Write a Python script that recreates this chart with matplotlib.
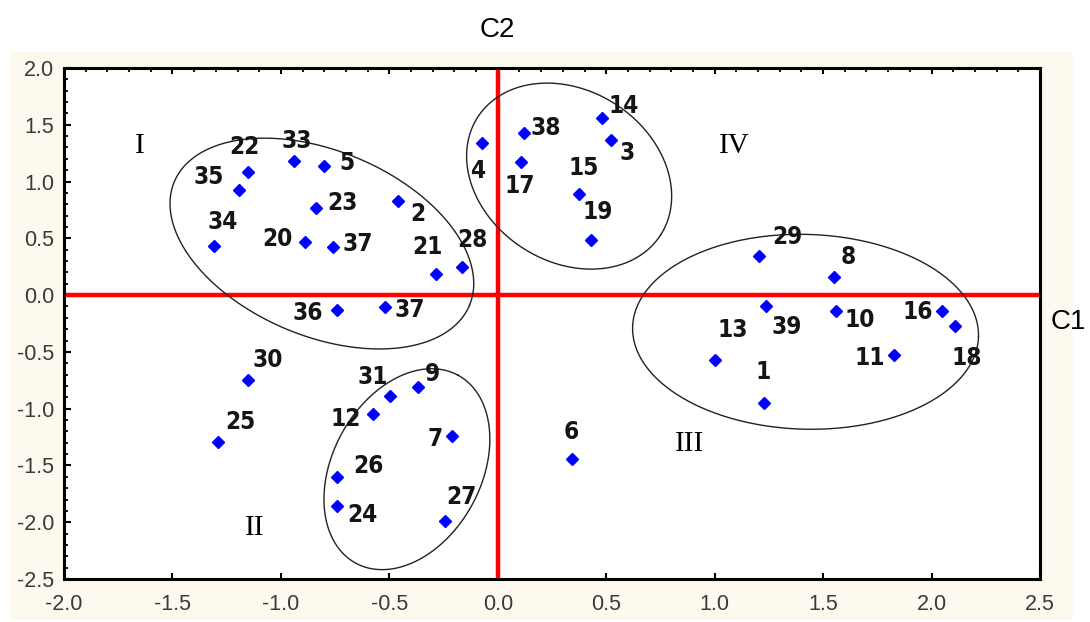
import numpy as np
import matplotlib
matplotlib.use("Agg")
import matplotlib.pyplot as plt
from matplotlib import font_manager as fm
from matplotlib.ticker import MultipleLocator

plt.rcParams['axes.unicode_minus'] = False

# ---------------- data ----------------
labels = ['22', '35', '33', '5', '23', '2', '34', '20', '37', '21', '28', '36', '37',
          '4', '38', '17', '14', '3', '15', '19',
          '29', '8', '39', '10', '16', '18', '13', '1', '11',
          '30', '25', '31', '9', '12', '7', '26', '24', '27', '6']
c1 = [-1.153, -1.192, -0.939, -0.800, -0.840, -0.459, -1.307, -0.888, -0.762, -0.283, -0.167, -0.743, -0.521,
      -0.075, 0.120, 0.109, 0.482, 0.524, 0.373, 0.432,
      1.204, 1.548, 1.235, 1.561, 2.048, 2.109, 1.003, 1.226, 1.829,
      -1.153, -1.292, -0.498, -0.370, -0.575, -0.210, -0.740, -0.743, -0.244, 0.341]
c2 = [1.086, 0.928, 1.177, 1.133, 0.766, 0.832, 0.431, 0.469, 0.425, 0.183, 0.250, -0.128, -0.108,
      1.342, 1.430, 1.173, 1.560, 1.362, 0.890, 0.483,
      0.347, 0.157, -0.099, -0.142, -0.142, -0.268, -0.574, -0.949, -0.530,
      -0.745, -1.293, -0.885, -0.812, -1.051, -1.240, -1.598, -1.854, -1.991, -1.441]

# label offsets from their point (pixels, y up)
label_offsets = [(-3, 23), (-31, 11), (3, 19), (23, 2), (27, 4), (20, -15), (8, 23), (-28, 1), (25, 1),
                 (-9, 26), (11, 25), (-29, -5), (25, -4),
                 (-4, -30), (22, 3), (-2, -25), (21, 11), (16, -14), (5, 25), (6, 27),
                 (28, 17), (15, 19), (21, -22), (23, -10), (-24, -2), (12, -34), (17, 29), (-1, 29), (-25, -4),
                 (20, 18), (23, 19), (-17, 17), (15, 12), (-27, -6), (-17, -4), (31, 9), (26, -11), (17, 23), (0, 25)]

# group names and positions
groups = ['I', 'IV', 'III', 'II']
group_x = [-1.65, 1.092, 0.885, -1.12]
group_y = [1.31, 1.31, -1.31, -2.05]

# ellipses: centre (data), semi-axes (pixels), tilt (deg)
ell_cx = [-0.811, 0.329, 1.419, -0.419]
ell_cy = [0.454, 1.048, -0.323, -1.533]
ell_a = [160, 108.8, 173, 107]
ell_b = [92.6, 85.6, 97.4, 74.3]
ell_t = [-22.7, -32.8, -1.6, 61.4]

xticks = [-2.0, -1.5, -1.0, -0.5, 0.0, 0.5, 1.0, 1.5, 2.0, 2.5]
yticks = [-2.5, -2.0, -1.5, -1.0, -0.5, 0.0, 0.5, 1.0, 1.5, 2.0]

# ---------------- fonts ----------------
def has_font(name):
    try:
        fm.findfont(fm.FontProperties(family=name), fallback_to_default=False)
        return True
    except Exception:
        return False

if has_font('Liberation Sans Narrow'):
    lab_font = dict(family='Liberation Sans Narrow', fontsize=19.5, fontweight='bold')
else:
    lab_font = dict(family='DejaVu Sans', fontstretch='condensed', fontsize=17.5, fontweight='bold')
sans = 'Liberation Sans' if has_font('Liberation Sans') else 'DejaVu Sans'
serif = 'Liberation Serif' if has_font('Liberation Serif') else 'DejaVu Serif'

# ---------------- figure ----------------
W, H = 1090, 622
fig = plt.figure(figsize=(W / 100, H / 100), dpi=100)
fig.patch.set_facecolor('white')
bg = fig.add_axes([10 / W, 2 / H, 1063 / W, 568 / H], zorder=-5)
bg.set_facecolor('#fdf9ee')
bg.set_xticks([])
bg.set_yticks([])
for sp in bg.spines.values():
    sp.set_visible(False)

L, R, T, B = 64, 1040, 68, 579
ax = fig.add_axes([L / W, 1 - B / H, (R - L) / W, (B - T) / H], zorder=1)
ax.set_facecolor('white')
ax.set_xlim(-2.0, 2.5)
ax.set_ylim(-2.5, 2.0)
pxx = (R - L) / 4.5
pxy = (B - T) / 4.5

ax.axhline(0, color='#ff0000', lw=3.2, zorder=2)
ax.axvline(0, color='#ff0000', lw=3.2, zorder=2)

for cx, cy, a, b, t in zip(ell_cx, ell_cy, ell_a, ell_b, ell_t):
    s = np.linspace(0, 2 * np.pi, 400)
    th = np.deg2rad(t)
    dx = a * np.cos(th) * np.cos(s) - b * np.sin(th) * np.sin(s)
    dy = a * np.sin(th) * np.cos(s) + b * np.cos(th) * np.sin(s)
    ax.plot(cx + dx / pxx, cy + dy / pxy, color='#222222', lw=1.0, zorder=3)

ax.plot(c1, c2, linestyle='none', marker='D', markersize=6.2, color='#0000ff', zorder=5)

for lab, x, y, (ox, oy) in zip(labels, c1, c2, label_offsets):
    ax.annotate(lab, (x, y), xytext=(ox * 0.72, oy * 0.72 + 1), textcoords='offset points',
                ha='center', va='center', color='#151515', zorder=6, **lab_font)

for g, x, y in zip(groups, group_x, group_y):
    ax.text(x, y, g, family=serif, fontsize=21, ha='center', va='center', color='black', zorder=6)

# axes styling
for side in ['left', 'right', 'top', 'bottom']:
    ax.spines[side].set_linewidth(2.2)
    ax.spines[side].set_color('black')
    ax.spines[side].set_zorder(7)

ax.set_xticks(xticks)
ax.set_yticks(yticks)
ax.set_xticklabels([f'{v:.1f}' for v in xticks])
ax.set_yticklabels([f'{v:.1f}' for v in yticks])
ax.xaxis.set_minor_locator(MultipleLocator(0.1))
ax.yaxis.set_minor_locator(MultipleLocator(0.1))
ax.tick_params(axis='x', which='major', direction='in', top=True, bottom=True, length=4, width=1.5,
               pad=11, labelsize=15.5, labelcolor='#3a3a3a')
ax.tick_params(axis='x', which='minor', direction='in', top=True, bottom=False, length=3, width=1.3)
ax.tick_params(axis='y', which='major', direction='in', left=True, right=False, length=5, width=1.5,
               pad=7, labelsize=15.5, labelcolor='#3a3a3a')
ax.tick_params(axis='y', which='minor', direction='in', left=True, right=False, length=3, width=1.3)
for lbl in ax.get_xticklabels() + ax.get_yticklabels():
    lbl.set_family(sans)

fig.text(497 / W, 1 - 30 / H, 'C2', family=sans, fontsize=20, ha='center', va='center', color='black')
fig.text(1068 / W, 1 - 322 / H, 'C1', family=sans, fontsize=20, ha='center', va='center', color='black')

fig.savefig('out.png', dpi=100, facecolor='white')
